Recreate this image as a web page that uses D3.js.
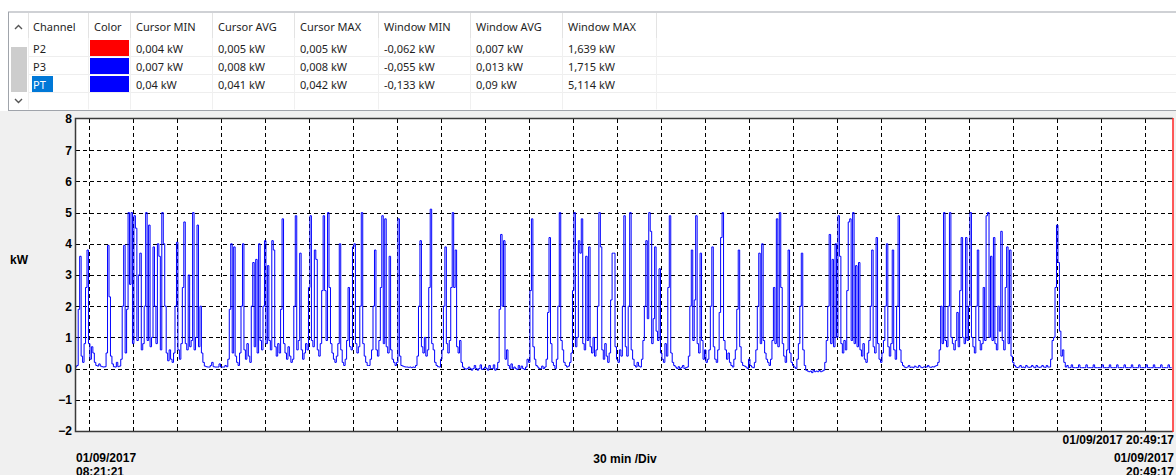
<!DOCTYPE html>
<html><head><meta charset="utf-8">
<script src="https://cdn.jsdelivr.net/npm/d3@7"></script>
<style>
html,body{margin:0;padding:0;background:#fff;overflow:hidden}
svg{display:block}
</style></head><body>
<svg id="c" width="1176" height="475"></svg>
<script>
// ---------- data ----------
const channels = ["P2", "P3", "PT"];
const channelColors = ["#ff0000", "#0000ff", "#0000ff"];
const columns = ["Channel", "Color", "Cursor MIN", "Cursor AVG", "Cursor MAX", "Window MIN", "Window AVG", "Window MAX"];
const cursorMin = ["0,004 kW", "0,007 kW", "0,04 kW"];
const cursorAvg = ["0,005 kW", "0,008 kW", "0,041 kW"];
const cursorMax = ["0,005 kW", "0,008 kW", "0,042 kW"];
const windowMin = ["-0,062 kW", "-0,055 kW", "-0,133 kW"];
const windowAvg = ["0,007 kW", "0,013 kW", "0,09 kW"];
const windowMax = ["1,639 kW", "1,715 kW", "5,114 kW"];
const yTicks = [-2, -1, 0, 1, 2, 3, 4, 5, 6, 7, 8];
const startTime = "2017-09-01T08:21:21";
const endTime = "2017-09-01T20:49:17";
const sampleMinutes = 1;
const startLabel = ["01/09/2017", "08:21:21"];
const endLabel = ["01/09/2017", "20:49:17"];
const cursorLabel = "01/09/2017 20:49:17";
const divLabel = "30 min /Div";
const yUnit = "kW";

// PT power, one reading per minute from 08:21:21
const ptA = [
0.05,0.1,1.9,3.6,0.4,0.2,0.8,2.6,3.8,0.8,
0.3,0.7,0.5,0.2,0.1,0.08,0.15,0.08,0.06,0.05,
0.06,0.5,3.95,2.3,0.4,0.15,0.06,0.05,0.2,0.06,
0.08,0.3,2.0,3.95,0.5,1.9,5.0,2.7,5.0,0.8,
4.9,4.5,0.9,3.0,3.7,0.6,0.8,2.0,5.0,0.9,
4.6,0.7,1.0,3.9,2.0,0.8,4.0,3.6,0.6,5.0,
4.0,2.0,0.5,0.25,0.6,0.3,0.2,0.5,2.0,4.05,
0.6,0.3,0.8,2.6,4.7,0.8,0.6,3.0,0.7,0.9,
5.0,0.6,1.0,4.6,0.7,2.0,0.5,0.2,0.08,0.06,
0.05,0.05,0.1,0.2,0.06,0.05,0.05,0.05,0.15,0.05,
0.05,0.05,0.1,0.06,0.3,1.9,4.0,0.5,3.9,0.4,
0.2,0.1,0.5,2.0,4.0,0.6,0.3,0.8,0.4,0.2,
2.0,3.4,0.7,3.5,0.5,4.0,0.9,0.6,2.0,4.1,
0.8,3.3,0.9,0.6,4.1,3.8,0.7,0.4,0.8,0.5,
1.9,4.8,0.8,0.5,0.3,0.7,0.4,0.2,0.3,2.0];
const ptB = [
4.9,0.6,0.9,3.7,0.6,0.3,0.5,0.8,0.6,2.6,
4.9,0.9,0.7,3.8,3.5,0.6,0.4,0.8,2.5,4.9,
2.5,0.9,5.0,2.6,0.8,0.5,0.3,0.2,0.4,0.8,
4.0,0.6,0.2,0.1,0.3,0.9,2.6,0.7,0.6,3.9,
4.0,0.8,0.5,0.7,2.0,5.0,0.8,0.4,0.2,0.1,
0.1,0.3,0.6,2.0,3.8,0.6,0.4,0.9,2.6,4.9,
0.8,4.8,0.7,0.5,3.6,0.6,0.3,0.2,0.1,0.2,
4.8,0.4,0.1,0.08,0.06,0.05,0.05,0.04,0.05,0.03,
0.05,0.04,0.1,0.4,2.0,4.1,0.7,0.5,1.0,0.4,
0.6,2.6,5.11,0.8,0.6,0.2,0.1,0.06,0.05,0.3,
0.6,2.0,3.9,0.8,0.5,0.9,2.6,5.0,2.6,3.8,
0.7,0.5,0.9,0.2,0.05,0.0,-0.02,0.0,0.05,0.0,
-0.05,0.0,0.1,0.0,-0.05,0.0,0.12,-0.03,0.0,0.05,
0.0,-0.05,0.1,0.0,0.0,0.12,-0.05,0.0,0.2,1.9,
4.3,2.0,4.1,0.3,0.6,0.1,0.0,0.15,0.0,0.05];
const ptC = [
0.0,-0.03,0.1,0.0,0.08,0.0,-0.03,0.05,0.3,0.2,
2.5,4.8,0.7,0.3,0.1,0.05,0.0,0.0,0.08,0.0,
0.05,0.3,1.8,4.2,0.8,0.2,0.1,0.0,0.3,2.0,
5.0,0.9,0.6,0.2,0.1,0.05,0.08,0.2,0.5,2.5,
5.0,0.7,1.0,4.1,3.7,4.8,0.8,0.6,3.6,0.9,
3.9,0.7,0.5,1.0,0.4,0.6,2.0,5.0,3.9,0.6,
0.3,0.8,0.4,0.2,0.5,2.2,3.7,3.7,0.7,0.3,
0.2,0.6,0.4,2.0,4.9,0.7,0.4,2.0,5.0,0.6,
0.3,0.1,0.05,0.2,0.08,0.05,0.3,0.9,2.0,4.1,
1.6,5.0,4.4,0.8,1.6,3.9,1.2,0.9,3.2,0.5,
0.3,0.2,0.8,0.4,2.6,4.9,0.5,0.2,0.1,0.05,
0.0,0.06,0.0,0.04,0.1,0.0,0.03,0.05,0.4,2.0,
3.8,0.9,2.2,4.9,0.8,0.5,3.7,0.9,0.3,0.6,
0.2,0.3,0.6,2.0,3.9,0.7,0.3,0.2,0.6,1.8,
4.2,5.0,0.9,0.6,0.3,0.5,0.2,0.1,0.05,0.3];
const ptD = [
0.6,1.9,3.8,0.7,0.2,0.1,0.08,0.05,0.0,0.3,
0.1,0.05,0.03,0.2,0.6,2.0,3.7,0.8,4.0,0.9,
0.5,0.3,0.2,0.1,0.3,0.9,2.6,0.8,4.8,0.7,
5.0,2.6,0.8,0.4,0.2,0.6,3.8,0.5,0.2,0.1,
0.05,0.0,0.3,0.8,2.0,3.7,0.6,0.1,-0.05,-0.08,
-0.1,-0.08,-0.13,-0.05,-0.1,-0.08,-0.1,-0.06,-0.1,-0.08,
-0.05,0.2,0.9,2.0,4.3,0.8,3.5,0.7,4.0,1.0,
4.9,3.6,0.8,0.5,0.9,0.6,2.5,4.7,4.8,0.9,
5.0,0.8,3.3,0.7,3.4,0.6,0.4,0.8,0.3,0.2,
0.5,0.9,2.0,3.8,0.7,0.5,4.2,0.8,0.3,0.2,
0.5,0.9,2.0,4.0,0.7,0.4,0.8,3.8,0.6,0.3,
2.0,4.9,0.6,0.2,0.1,0.05,0.03,0.05,0.1,0.04,
0.05,0.03,0.08,0.05,0.04,0.1,0.05,0.03,0.05,0.06,
0.05,0.1,0.05,0.04,0.06,0.05,0.08,0.1,0.2,0.6,
2.0,0.8,5.0,0.9,0.7,2.0,5.0,1.0,0.8,0.6];
const ptE = [
0.9,1.8,0.7,2.5,4.2,1.0,0.8,4.2,0.9,2.0,
5.0,1.0,0.7,0.5,2.0,3.8,0.9,0.6,0.8,2.6,
0.9,4.9,5.0,1.0,3.6,0.9,4.2,0.8,0.6,2.0,
1.2,4.4,0.9,0.6,2.6,3.9,0.8,3.8,0.4,0.2,
0.1,0.05,0.03,0.05,0.1,0.04,0.05,0.03,0.1,0.05,
0.04,0.05,0.1,0.05,0.03,0.1,0.05,0.04,0.05,0.1,
0.05,0.04,0.1,0.05,0.05,0.3,0.9,1.0,2.6,4.6,
3.4,1.2,0.4,0.6,0.2,0.05,0.1,0.03,0.03,0.12,
0.03,0.03,0.03,0.03,0.12,0.03,0.03,0.03,0.03,0.12,
0.03,0.03,0.03,0.03,0.12,0.03,0.03,0.03,0.03,0.03,
0.12,0.03,0.03,0.03,0.03,0.12,0.03,0.03,0.03,0.03,
0.12,0.03,0.03,0.03,0.03,0.12,0.03,0.03,0.03,0.03,
0.12,0.03,0.03,0.03,0.03,0.12,0.03,0.03,0.03,0.03,
0.12,0.03,0.03,0.03,0.03,0.12,0.03,0.03,0.03,0.03,
0.12,0.03,0.03,0.03,0.03,0.12,0.03,0.03];

// ---------- drawing ----------
const svg = d3.select("#c");
const W = 1176, H = 475;
const uiFont = "'Noto Sans', 'Open Sans', sans-serif";
const axFont = "'Liberation Sans', Arial, sans-serif";

svg.append("rect").attr("width", W).attr("height", H).attr("fill", "#ffffff");

// ---- table ----
const tbl = svg.append("g");
const tTop = 12, tBot = 110.5, tLeft = 8.5;
const colEdges = [28, 88, 130, 212, 294, 378, 470, 562, 656];
const headerBase = 31;
const rowTop = 39, rowH = 18;

tbl.append("rect").attr("x", tLeft).attr("y", tTop).attr("width", W - tLeft + 2).attr("height", tBot - tTop)
  .attr("fill", "#ffffff").attr("stroke", "#a0a4ab").attr("stroke-width", 1);
for (let i = 1; i <= 3; i++) {
  tbl.append("line").attr("x1", 28).attr("x2", W).attr("y1", rowTop + i * rowH - 0.5).attr("y2", rowTop + i * rowH - 0.5)
    .attr("stroke", "#eeeeee");
}
colEdges.forEach(x => {
  tbl.append("line").attr("x1", x + 0.5).attr("x2", x + 0.5).attr("y1", tTop + 1).attr("y2", tBot - 1)
    .attr("stroke", "#f0f0f0");
  tbl.append("line").attr("x1", x + 0.5).attr("x2", x + 0.5).attr("y1", tTop + 1).attr("y2", rowTop - 1)
    .attr("stroke", "#e3e3e3");
});
tbl.append("rect").attr("x", 11).attr("y", 47).attr("width", 16).attr("height", 45).attr("fill", "#cdcdcd");
tbl.append("path").attr("d", "M15,29 L18.5,25.5 L22,29").attr("fill", "none").attr("stroke", "#555").attr("stroke-width", 1.4);
tbl.append("path").attr("d", "M15,99 L18.5,102.5 L22,99").attr("fill", "none").attr("stroke", "#555").attr("stroke-width", 1.4);

tbl.selectAll("text.h").data(columns).join("text").attr("class", "h")
  .attr("x", (d, i) => colEdges[i] + (i === 0 ? 5 : 6)).attr("y", headerBase)
  .attr("font-family", uiFont).attr("font-size", 11).attr("fill", "#1e1e1e").text(d => d);

const rowsData = channels.map((c, i) => [c, null, cursorMin[i], cursorAvg[i], cursorMax[i], windowMin[i], windowAvg[i], windowMax[i]]);
rowsData.forEach((row, r) => {
  const y0 = rowTop + r * rowH;
  if (channels[r] === "PT") {
    tbl.append("rect").attr("x", 32).attr("y", y0 + 1).attr("width", 21).attr("height", 16).attr("fill", "#0078d7");
  }
  tbl.append("rect").attr("x", 90).attr("y", y0 + 1).attr("width", 39).attr("height", 16).attr("fill", channelColors[r]);
  row.forEach((v, c) => {
    if (v === null) return;
    tbl.append("text").attr("x", colEdges[c] + (c === 0 ? 5 : 6)).attr("y", y0 + 13.5)
      .attr("font-family", uiFont).attr("font-size", 11)
      .attr("fill", (c === 0 && channels[r] === "PT") ? "#ffffff" : "#1e1e1e").text(v);
  });
});

// ---- chart panel ----
svg.append("rect").attr("x", 0).attr("y", 111).attr("width", W).attr("height", H - 111).attr("fill", "#f0f0f0");

const pl = 76, pr = 1173, pt = 119, pb = 431;
const t0 = new Date(startTime), t1 = new Date(endTime);
const x = d3.scaleTime().domain([t0, t1]).range([pl, pr]);
const y = d3.scaleLinear().domain([-2, 8]).range([pb, pt]);

svg.append("rect").attr("x", pl).attr("y", pt).attr("width", pr - pl).attr("height", pb - pt).attr("fill", "#ffffff");

const gy = svg.append("g").attr("transform", `translate(${pl},0)`)
  .call(d3.axisLeft(y).tickValues(yTicks.filter(v => v > -2 && v < 8)).tickSize(-(pr - pl)).tickFormat(""));
gy.select(".domain").remove();
gy.selectAll("line").attr("stroke", "#000").attr("stroke-dasharray", "4,3").attr("shape-rendering", "crispEdges");

const gx = svg.append("g").attr("transform", `translate(0,${pb})`)
  .call(d3.axisBottom(x).ticks(d3.timeMinute.every(30)).tickSize(-(pb - pt)).tickFormat(""));
gx.select(".domain").remove();
gx.selectAll("line").attr("stroke", "#000").attr("stroke-dasharray", "4,3").attr("shape-rendering", "crispEdges");

// series
const ptSeries = [].concat(ptA, ptB, ptC, ptD, ptE);
const pts = ptSeries.map((v, i) => [new Date(t0.getTime() + i * sampleMinutes * 60000), v]);
const line = d3.line().x(d => x(d[0])).y(d => y(d[1])).curve(d3.curveStep);
svg.append("path").datum(pts).attr("d", line).attr("fill", "none").attr("stroke", "#0000ff").attr("stroke-width", 1)
  .attr("stroke-linejoin", "miter");

// border
svg.append("path").attr("d", `M${pr},${pt - 0.5} H${pl - 0.5} V${pb + 0.5} H${pr}`).attr("fill", "none")
  .attr("stroke", "#3a3a3a").attr("stroke-width", 1.5);
svg.append("line").attr("x1", pr).attr("x2", pr).attr("y1", pt - 1).attr("y2", pb + 1)
  .attr("stroke", "#ff3030").attr("stroke-width", 1.6);

const gyl = svg.append("g").attr("transform", `translate(${pl - 4},0)`)
  .call(d3.axisLeft(y).tickValues(yTicks).tickSize(0).tickPadding(0).tickFormat(d3.format("d")));
gyl.select(".domain").remove();
gyl.selectAll("text").attr("font-family", axFont).attr("font-size", 12).attr("font-weight", "bold").attr("fill", "#000");

svg.append("text").attr("x", 10).attr("y", 264).attr("font-family", axFont).attr("font-size", 12)
  .attr("font-weight", "bold").text(yUnit);

const lab = (t, xx, yy, anchor) => svg.append("text").attr("x", xx).attr("y", yy).attr("text-anchor", anchor)
  .attr("font-family", axFont).attr("font-size", 12).attr("font-weight", "bold").attr("fill", "#000").text(t);
lab(startLabel[0], pl, 462, "start");
lab(startLabel[1], pl, 476, "start");
lab(divLabel, 625, 463, "middle");
lab(cursorLabel, pr + 1, 444, "end");
lab(endLabel[0], pr + 1, 462, "end");
lab(endLabel[1], pr + 1, 476, "end");
</script>
</body></html>
